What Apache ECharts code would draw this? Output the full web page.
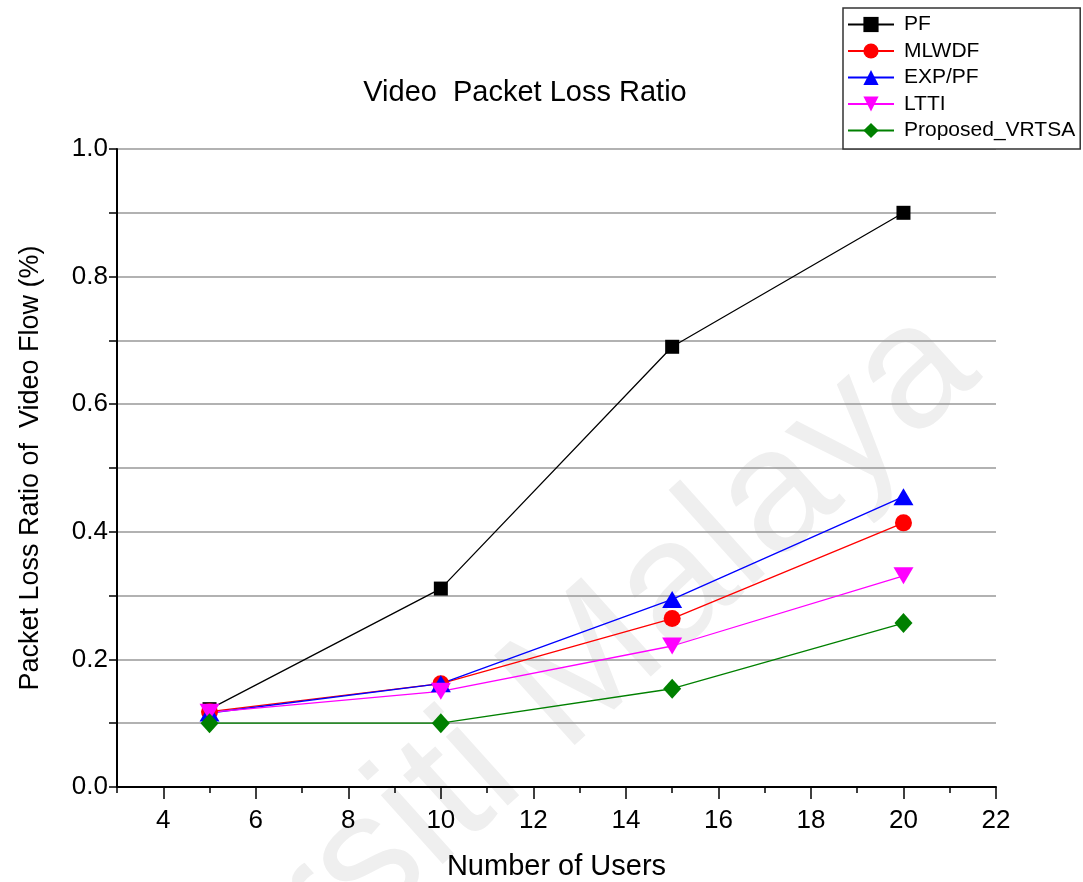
<!DOCTYPE html>
<html>
<head>
<meta charset="utf-8">
<script src="https://cdn.jsdelivr.net/npm/echarts@6/dist/echarts.min.js"></script>
<style>
html,body{margin:0;padding:0;background:#fff;}
#chart{width:1083px;height:882px;}
</style>
</head>
<body>
<div id="chart"></div>
<script>
const users = [5, 10, 15, 20];
const pf     = [0.122, 0.311, 0.690, 0.900];
const mlwdf  = [0.118, 0.162, 0.264, 0.414];
const exppf  = [0.116, 0.162, 0.294, 0.455];
const ltti   = [0.117, 0.150, 0.221, 0.331];
const vrtsa  = [0.100, 0.100, 0.154, 0.257];
const seriesNames = ['PF', 'MLWDF', 'EXP/PF', 'LTTI', 'Proposed_VRTSA'];
const xMajorTicks = [4, 6, 8, 10, 12, 14, 16, 18, 20, 22];
const yTickLabels = ['0.0', '0.2', '0.4', '0.6', '0.8', '1.0'];

const FONT = '"Liberation Sans", Arial, sans-serif';
const chart = echarts.init(document.getElementById('chart'), null, {renderer: 'canvas'});

function mk(name, vals, color, symbol, size, rot) {
  return {
    name: name, type: 'line',
    data: users.map((u, i) => [u, vals[i]]),
    symbol: symbol, symbolSize: size, symbolRotate: rot || 0,
    showAllSymbol: true,
    lineStyle: {color: color, width: 1.3},
    itemStyle: {color: color, borderWidth: 0},
    emphasis: {disabled: true},
    animation: false
  };
}
const diamond = 'path://M5,0 L10,6 L5,12 L0,6 Z';

chart.setOption({
  animation: false,
  backgroundColor: '#fff',
  graphic: [
    {type: 'text', z: -10, silent: true,
     style: {text: 'Universiti Malaya', font: '175px ' + FONT, fill: '#efefef',
             x: 0, y: 0, textAlign: 'center', textVerticalAlign: 'middle'},
     x: 456, y: 787, rotation: 0.733},
    {type: 'text', z: 10,
     style: {text: 'Video  Packet Loss Ratio', font: '29px ' + FONT, fill: '#000',
             x: 525, y: 93, textAlign: 'center', textVerticalAlign: 'middle'}}
  ],
  legend: {
    orient: 'vertical',
    left: 843, top: 8,
    padding: [6, 5, 8, 4],
    itemWidth: 46, itemHeight: 19, itemGap: 5.5,
    borderColor: '#333', borderWidth: 1.5,
    backgroundColor: '#fff',
    textStyle: {fontFamily: FONT, fontSize: 21, lineHeight: 21, color: '#000', padding: [0, 0, 0, 5]},
    data: seriesNames
  },
  grid: {left: 117, right: 87, top: 149, bottom: 95, containLabel: false, outerBoundsMode: 'none'},
  xAxis: [{
    type: 'value', min: 3, max: 22, interval: 1,
    name: 'Number of Users', nameLocation: 'middle', nameGap: 65,
    nameTextStyle: {fontFamily: FONT, fontSize: 29, color: '#000'},
    axisLine: {show: true, onZero: false, lineStyle: {color: '#000', width: 2}},
    axisTick: {show: true, inside: false, length: 6, lineStyle: {color: '#000', width: 1.5}},
    axisLabel: {show: true, customValues: xMajorTicks, margin: 21,
                fontFamily: FONT, fontSize: 26, color: '#000'},
    splitLine: {show: false}
  }, {
    type: 'value', min: 3, max: 22, position: 'bottom',
    axisLine: {show: false},
    axisTick: {show: true, customValues: xMajorTicks, length: 12, lineStyle: {color: '#000', width: 1.5}},
    axisLabel: {show: false},
    splitLine: {show: false}
  }],
  yAxis: {
    type: 'value', min: 0, max: 1, interval: 0.1,
    name: 'Packet Loss Ratio of  Video Flow (%)', nameLocation: 'middle', nameGap: 73,
    nameTextStyle: {fontFamily: FONT, fontSize: 27, color: '#000'},
    axisLine: {show: true, lineStyle: {color: '#000', width: 2}},
    axisTick: {show: true, length: 8, lineStyle: {color: '#000', width: 1.5}},
    axisLabel: {
      margin: 9, fontFamily: FONT, fontSize: 26, color: '#000',
      formatter: function (v) {
        const k = Math.round(v * 10);
        return k % 2 === 0 ? yTickLabels[k / 2] : '';
      }
    },
    splitLine: {show: true, lineStyle: {color: '#999', width: 1.5}}
  },
  series: [
    mk('PF', pf, '#000000', 'rect', 14),
    mk('MLWDF', mlwdf, '#ff0000', 'circle', 17),
    mk('EXP/PF', exppf, '#0000ff', 'triangle', [20, 17]),
    mk('LTTI', ltti, '#ff00ff', 'triangle', [20, 17], 180),
    mk('Proposed_VRTSA', vrtsa, '#008000', diamond, [18, 20])
  ]
});
</script>
</body>
</html>
